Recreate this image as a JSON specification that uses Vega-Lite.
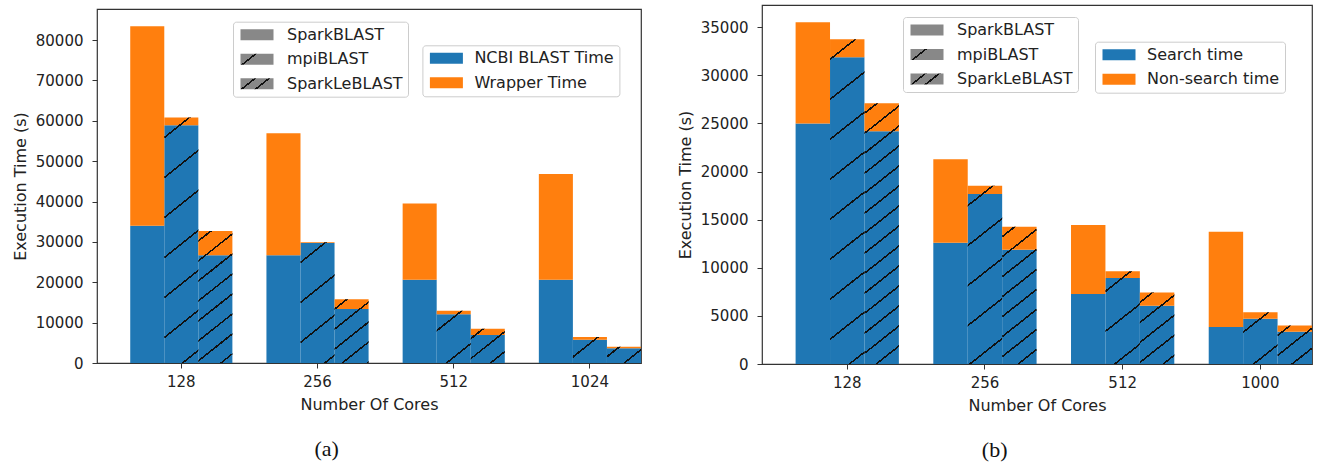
{
  "$schema": "https://vega.github.io/schema/vega-lite/v6.json",
  "padding": {"left": 11, "top": 4, "right": 4, "bottom": 0},
  "background": "white",
  "config": {
    "font": "DejaVu Sans",
    "view": {"stroke": "#333", "strokeWidth": 1.2},
    "axis": {"labelFont": "DejaVu Sans", "labelFontSize": 15, "labelColor": "#222", "titleFont": "DejaVu Sans", "titleFontSize": 16, "titleFontWeight": "normal", "titleColor": "#222", "tickColor": "#333", "tickSize": 5, "domain": false, "grid": false},
    "legend": {"labelFont": "DejaVu Sans", "labelFontSize": 16, "labelColor": "#222"}
  },
  "params": [
    {"name": "hs1", "value": [
      {"offset": 0.0528, "color": "transparent"}, {"offset": 0.0528, "color": "#111"}, {"offset": 0.0584, "color": "#111"}, {"offset": 0.0584, "color": "transparent"},
      {"offset": 0.1639, "color": "transparent"}, {"offset": 0.1639, "color": "#111"}, {"offset": 0.1695, "color": "#111"}, {"offset": 0.1695, "color": "transparent"},
      {"offset": 0.275, "color": "transparent"}, {"offset": 0.275, "color": "#111"}, {"offset": 0.2806, "color": "#111"}, {"offset": 0.2806, "color": "transparent"},
      {"offset": 0.3861, "color": "transparent"}, {"offset": 0.3861, "color": "#111"}, {"offset": 0.3917, "color": "#111"}, {"offset": 0.3917, "color": "transparent"},
      {"offset": 0.4972, "color": "transparent"}, {"offset": 0.4972, "color": "#111"}, {"offset": 0.5028, "color": "#111"}, {"offset": 0.5028, "color": "transparent"},
      {"offset": 0.6083, "color": "transparent"}, {"offset": 0.6083, "color": "#111"}, {"offset": 0.6139, "color": "#111"}, {"offset": 0.6139, "color": "transparent"},
      {"offset": 0.7194, "color": "transparent"}, {"offset": 0.7194, "color": "#111"}, {"offset": 0.725, "color": "#111"}, {"offset": 0.725, "color": "transparent"},
      {"offset": 0.8306, "color": "transparent"}, {"offset": 0.8306, "color": "#111"}, {"offset": 0.8361, "color": "#111"}, {"offset": 0.8361, "color": "transparent"},
      {"offset": 0.9417, "color": "transparent"}, {"offset": 0.9417, "color": "#111"}, {"offset": 0.9472, "color": "#111"}, {"offset": 0.9472, "color": "transparent"}
    ]},
    {"name": "hs2", "value": [
      {"offset": 0.025, "color": "transparent"}, {"offset": 0.025, "color": "#111"}, {"offset": 0.0306, "color": "#111"}, {"offset": 0.0306, "color": "transparent"},
      {"offset": 0.0806, "color": "transparent"}, {"offset": 0.0806, "color": "#111"}, {"offset": 0.0861, "color": "#111"}, {"offset": 0.0861, "color": "transparent"},
      {"offset": 0.1361, "color": "transparent"}, {"offset": 0.1361, "color": "#111"}, {"offset": 0.1417, "color": "#111"}, {"offset": 0.1417, "color": "transparent"},
      {"offset": 0.1917, "color": "transparent"}, {"offset": 0.1917, "color": "#111"}, {"offset": 0.1972, "color": "#111"}, {"offset": 0.1972, "color": "transparent"},
      {"offset": 0.2472, "color": "transparent"}, {"offset": 0.2472, "color": "#111"}, {"offset": 0.2528, "color": "#111"}, {"offset": 0.2528, "color": "transparent"},
      {"offset": 0.3028, "color": "transparent"}, {"offset": 0.3028, "color": "#111"}, {"offset": 0.3083, "color": "#111"}, {"offset": 0.3083, "color": "transparent"},
      {"offset": 0.3583, "color": "transparent"}, {"offset": 0.3583, "color": "#111"}, {"offset": 0.3639, "color": "#111"}, {"offset": 0.3639, "color": "transparent"},
      {"offset": 0.4139, "color": "transparent"}, {"offset": 0.4139, "color": "#111"}, {"offset": 0.4194, "color": "#111"}, {"offset": 0.4194, "color": "transparent"},
      {"offset": 0.4694, "color": "transparent"}, {"offset": 0.4694, "color": "#111"}, {"offset": 0.475, "color": "#111"}, {"offset": 0.475, "color": "transparent"},
      {"offset": 0.525, "color": "transparent"}, {"offset": 0.525, "color": "#111"}, {"offset": 0.5306, "color": "#111"}, {"offset": 0.5306, "color": "transparent"},
      {"offset": 0.5806, "color": "transparent"}, {"offset": 0.5806, "color": "#111"}, {"offset": 0.5861, "color": "#111"}, {"offset": 0.5861, "color": "transparent"},
      {"offset": 0.6361, "color": "transparent"}, {"offset": 0.6361, "color": "#111"}, {"offset": 0.6417, "color": "#111"}, {"offset": 0.6417, "color": "transparent"},
      {"offset": 0.6917, "color": "transparent"}, {"offset": 0.6917, "color": "#111"}, {"offset": 0.6972, "color": "#111"}, {"offset": 0.6972, "color": "transparent"},
      {"offset": 0.7472, "color": "transparent"}, {"offset": 0.7472, "color": "#111"}, {"offset": 0.7528, "color": "#111"}, {"offset": 0.7528, "color": "transparent"},
      {"offset": 0.8028, "color": "transparent"}, {"offset": 0.8028, "color": "#111"}, {"offset": 0.8083, "color": "#111"}, {"offset": 0.8083, "color": "transparent"},
      {"offset": 0.8583, "color": "transparent"}, {"offset": 0.8583, "color": "#111"}, {"offset": 0.8639, "color": "#111"}, {"offset": 0.8639, "color": "transparent"},
      {"offset": 0.9139, "color": "transparent"}, {"offset": 0.9139, "color": "#111"}, {"offset": 0.9194, "color": "#111"}, {"offset": 0.9194, "color": "transparent"},
      {"offset": 0.9694, "color": "transparent"}, {"offset": 0.9694, "color": "#111"}, {"offset": 0.975, "color": "#111"}, {"offset": 0.975, "color": "transparent"}
    ]}
  ],
  "datasets": {
    "a": [
      {"cores": "128", "tool": "SparkBLAST", "search": 34000, "total": 83400},
      {"cores": "128", "tool": "mpiBLAST", "search": 58900, "total": 60800},
      {"cores": "128", "tool": "SparkLeBLAST", "search": 26700, "total": 32700},
      {"cores": "256", "tool": "SparkBLAST", "search": 26700, "total": 56900},
      {"cores": "256", "tool": "mpiBLAST", "search": 29700, "total": 29900},
      {"cores": "256", "tool": "SparkLeBLAST", "search": 13400, "total": 15800},
      {"cores": "512", "tool": "SparkBLAST", "search": 20600, "total": 39500},
      {"cores": "512", "tool": "mpiBLAST", "search": 12100, "total": 12950},
      {"cores": "512", "tool": "SparkLeBLAST", "search": 6930, "total": 8500},
      {"cores": "1024", "tool": "SparkBLAST", "search": 20600, "total": 46800},
      {"cores": "1024", "tool": "mpiBLAST", "search": 5750, "total": 6450},
      {"cores": "1024", "tool": "SparkLeBLAST", "search": 3650, "total": 4030}
    ],
    "b": [
      {"cores": "128", "tool": "SparkBLAST", "search": 25000, "total": 35500},
      {"cores": "128", "tool": "mpiBLAST", "search": 31870, "total": 33740},
      {"cores": "128", "tool": "SparkLeBLAST", "search": 24180, "total": 27090},
      {"cores": "256", "tool": "SparkBLAST", "search": 12600, "total": 21270},
      {"cores": "256", "tool": "mpiBLAST", "search": 17670, "total": 18530},
      {"cores": "256", "tool": "SparkLeBLAST", "search": 11880, "total": 14270},
      {"cores": "512", "tool": "SparkBLAST", "search": 7280, "total": 14450},
      {"cores": "512", "tool": "mpiBLAST", "search": 8940, "total": 9630},
      {"cores": "512", "tool": "SparkLeBLAST", "search": 6060, "total": 7440},
      {"cores": "1000", "tool": "SparkBLAST", "search": 3850, "total": 13750},
      {"cores": "1000", "tool": "mpiBLAST", "search": 4690, "total": 5380},
      {"cores": "1000", "tool": "SparkLeBLAST", "search": 3360, "total": 4010}
    ]
  },
  "spacing": 34,
  "resolve": {
    "scale": {"x": "independent", "y": "independent", "xOffset": "independent", "color": "independent", "opacity": "independent"},
    "legend": {"color": "independent", "opacity": "independent"}
  },
  "hconcat": [
    {
      "spacing": 2,
      "vconcat": [
        {
          "width": 544,
          "height": 1,
          "view": {"stroke": null},
          "data": {"values": []},
          "mark": "rule",
          "encoding": {}
        },
        {
          "width": 544,
          "height": 354,
          "data": {"name": "a"},
          "title": {"text": "(a)", "orient": "bottom", "frame": "bounds", "anchor": "middle", "font": "Liberation Serif", "fontSize": 22, "fontWeight": "normal", "color": "#111", "offset": 27},
          "encoding": {
            "x": {"field": "cores", "type": "nominal", "scale": {"domain": ["128", "256", "512", "1024"], "paddingInner": 0.25, "paddingOuter": 0.122, "align": 1}, "axis": {"title": "Number Of Cores", "labelAngle": 0, "labelPadding": 6, "titlePadding": 7}},
            "xOffset": {"field": "tool", "type": "nominal", "scale": {"domain": ["SparkBLAST", "mpiBLAST", "SparkLeBLAST"], "paddingInner": 0, "paddingOuter": 0}}
          },
          "layer": [
            {
              "mark": {"type": "bar"},
              "encoding": {
                "y": {"field": "search", "type": "quantitative", "stack": null, "scale": {"domain": [0, 87700], "nice": false, "zero": true}, "axis": {"title": "Execution Time (s)", "values": [0, 10000, 20000, 30000, 40000, 50000, 60000, 70000, 80000], "format": "d", "labelPadding": 9, "titlePadding": 7}},
                "color": {"datum": "NCBI BLAST Time", "type": "nominal", "scale": {"domain": ["NCBI BLAST Time", "Wrapper Time"], "range": ["#1f77b4", "#ff7f0e"]}, "legend": {"title": null, "orient": "none", "legendX": 325.4, "legendY": 40.3, "symbolType": "M-1,-1H5V1H-1Z", "symbolSize": 121, "symbolStrokeWidth": 0, "labelOffset": 31, "rowPadding": 8.5, "padding": 5, "fillColor": "white", "strokeColor": "#ccc", "cornerRadius": 3}}
              }
            },
            {
              "mark": {"type": "bar"},
              "encoding": {
                "y": {"field": "search", "type": "quantitative", "stack": null},
                "y2": {"field": "total"},
                "color": {"datum": "Wrapper Time", "type": "nominal"}
              }
            },
            {
              "transform": [{"filter": "datum.tool != 'SparkBLAST'"}],
              "mark": {"type": "bar", "fill": {"expr": "isValid(datum.total) ? {gradient: 'linear', x1: 0, y1: 0, x2: 9792 / (739.84 + pow(datum.total * 0.0040365, 2)), y2: 360 * datum.total * 0.0040365 / (739.84 + pow(datum.total * 0.0040365, 2)), stops: datum.tool == 'mpiBLAST' ? hs1 : hs2} : (datum.value == 'SparkBLAST' ? '#888888' : (datum.value == 'mpiBLAST' ? {gradient: 'linear', x1: 0, y1: 0, x2: 11.62, y2: 4.84, stops: [{offset: 0, color: '#888888'}, {offset: 0.0316, color: '#888888'}, {offset: 0.0316, color: '#111111'}, {offset: 0.0372, color: '#111111'}, {offset: 0.0372, color: '#888888'}, {offset: 1, color: '#888888'}]} : {gradient: 'linear', x1: 0, y1: 0, x2: 11.62, y2: 4.84, stops: [{offset: 0, color: '#888888'}, {offset: 0.03, color: '#888888'}, {offset: 0.03, color: '#111111'}, {offset: 0.0356, color: '#111111'}, {offset: 0.0356, color: '#888888'}, {offset: 0.0611, color: '#888888'}, {offset: 0.0611, color: '#111111'}, {offset: 0.0667, color: '#111111'}, {offset: 0.0667, color: '#888888'}, {offset: 1, color: '#888888'}]}))"}},
              "encoding": {
                "y": {"field": "total", "type": "quantitative", "stack": null},
                "opacity": {"field": "tool", "type": "nominal", "scale": {"type": "point", "domain": ["SparkBLAST", "mpiBLAST", "SparkLeBLAST"], "range": [1, 1]}, "legend": {"title": null, "orient": "none", "legendX": 136, "legendY": 16.7, "symbolType": "M-1,-1H5V1H-1Z", "symbolSize": 121, "symbolStrokeWidth": 0, "labelOffset": 33, "rowPadding": 8.5, "padding": 5, "fillColor": "white", "strokeColor": "#ccc", "cornerRadius": 3}}
              }
            }
          ]
        }
      ]
    },
    {
      "width": 550,
      "height": 359,
      "data": {"name": "b"},
      "title": {"text": "(b)", "orient": "bottom", "frame": "bounds", "anchor": "middle", "font": "Liberation Serif", "fontSize": 22, "fontWeight": "normal", "color": "#111", "offset": 27},
      "encoding": {
        "x": {"field": "cores", "type": "nominal", "scale": {"domain": ["128", "256", "512", "1000"], "paddingInner": 0.25, "paddingOuter": 0.122, "align": 1}, "axis": {"title": "Number Of Cores", "labelAngle": 0, "labelPadding": 6, "titlePadding": 7}},
        "xOffset": {"field": "tool", "type": "nominal", "scale": {"domain": ["SparkBLAST", "mpiBLAST", "SparkLeBLAST"], "paddingInner": 0, "paddingOuter": 0}}
      },
      "layer": [
        {
          "mark": {"type": "bar"},
          "encoding": {
            "y": {"field": "search", "type": "quantitative", "stack": null, "scale": {"domain": [0, 37300], "nice": false, "zero": true}, "axis": {"title": "Execution Time (s)", "values": [0, 5000, 10000, 15000, 20000, 25000, 30000, 35000], "format": "d", "labelPadding": 9, "titlePadding": 7}},
            "color": {"datum": "Search time", "type": "nominal", "scale": {"domain": ["Search time", "Non-search time"], "range": ["#1f77b4", "#ff7f0e"]}, "legend": {"title": null, "orient": "none", "legendX": 333, "legendY": 36.7, "symbolType": "M-1,-1H5V1H-1Z", "symbolSize": 121, "symbolStrokeWidth": 0, "labelOffset": 31, "rowPadding": 8.5, "padding": 5, "fillColor": "white", "strokeColor": "#ccc", "cornerRadius": 3}}
          }
        },
        {
          "mark": {"type": "bar"},
          "encoding": {
            "y": {"field": "search", "type": "quantitative", "stack": null},
            "y2": {"field": "total"},
            "color": {"datum": "Non-search time", "type": "nominal"}
          }
        },
        {
          "transform": [{"filter": "datum.tool != 'SparkBLAST'"}],
          "mark": {"type": "bar", "fill": {"expr": "isValid(datum.total) ? {gradient: 'linear', x1: 0, y1: 0, x2: 9792 / (739.84 + pow(datum.total * 0.0096247, 2)), y2: 360 * datum.total * 0.0096247 / (739.84 + pow(datum.total * 0.0096247, 2)), stops: datum.tool == 'mpiBLAST' ? hs1 : hs2} : (datum.value == 'SparkBLAST' ? '#888888' : (datum.value == 'mpiBLAST' ? {gradient: 'linear', x1: 0, y1: 0, x2: 11.62, y2: 4.84, stops: [{offset: 0, color: '#888888'}, {offset: 0.0316, color: '#888888'}, {offset: 0.0316, color: '#111111'}, {offset: 0.0372, color: '#111111'}, {offset: 0.0372, color: '#888888'}, {offset: 1, color: '#888888'}]} : {gradient: 'linear', x1: 0, y1: 0, x2: 11.62, y2: 4.84, stops: [{offset: 0, color: '#888888'}, {offset: 0.03, color: '#888888'}, {offset: 0.03, color: '#111111'}, {offset: 0.0356, color: '#111111'}, {offset: 0.0356, color: '#888888'}, {offset: 0.0611, color: '#888888'}, {offset: 0.0611, color: '#111111'}, {offset: 0.0667, color: '#111111'}, {offset: 0.0667, color: '#888888'}, {offset: 1, color: '#888888'}]}))"}},
          "encoding": {
            "y": {"field": "total", "type": "quantitative", "stack": null},
            "opacity": {"field": "tool", "type": "nominal", "scale": {"type": "point", "domain": ["SparkBLAST", "mpiBLAST", "SparkLeBLAST"], "range": [1, 1]}, "legend": {"title": null, "orient": "none", "legendX": 141, "legendY": 12, "symbolType": "M-1,-1H5V1H-1Z", "symbolSize": 121, "symbolStrokeWidth": 0, "labelOffset": 33, "rowPadding": 8.5, "padding": 5, "fillColor": "white", "strokeColor": "#ccc", "cornerRadius": 3}}
          }
        }
      ]
    }
  ]
}
